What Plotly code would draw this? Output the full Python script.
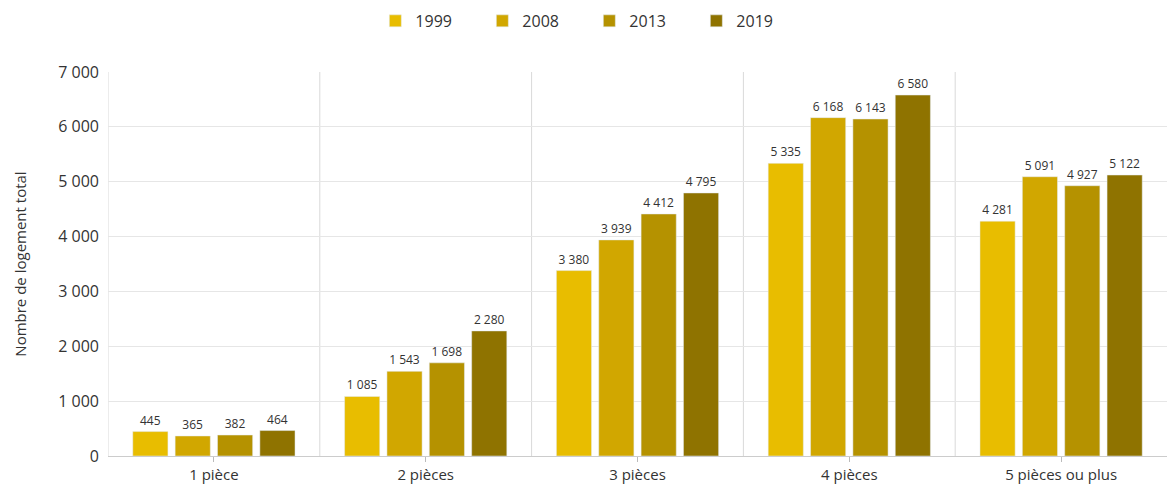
import plotly.graph_objects as go

categories = ["1 pièce", "2 pièces", "3 pièces", "4 pièces", "5 pièces ou plus"]
years = ["1999", "2008", "2013", "2019"]
values = {
    "1999": [445, 1085, 3380, 5335, 4281],
    "2008": [365, 1543, 3939, 6168, 5091],
    "2013": [382, 1698, 4412, 6143, 4927],
    "2019": [464, 2280, 4795, 6580, 5122],
}
colors = {"1999": "#E8BD00", "2008": "#D1A700", "2013": "#B59200", "2019": "#8F7300"}
y_ticks = [0, 1000, 2000, 3000, 4000, 5000, 6000, 7000]

FONT = "Open Sans"
fig = go.Figure()
for yr in years:
    fig.add_trace(go.Bar(
        name=yr, x=categories, y=values[yr], marker_color=colors[yr],
        texttemplate="%{y:,}", textposition="outside", cliponaxis=False,
        textfont=dict(size=12, color="#333333", family=FONT),
    ))

shapes = []
for i in range(len(categories)):
    shapes.append(dict(type="line", xref="x", yref="paper", x0=i - 0.5, x1=i - 0.5,
                       y0=0, y1=1, line=dict(color="#d9d9d9", width=1), layer="below"))

fig.update_layout(
    width=1167, height=493,
    margin=dict(l=108, r=0, t=72, b=37),
    paper_bgcolor="white", plot_bgcolor="white",
    separators=", ",
    barmode="group", bargap=0.2, bargroupgap=0.17,
    font=dict(family=FONT, color="#333333", size=15),
    legend=dict(orientation="h", xref="container", yref="container", x=0.505, xanchor="center",
                y=0.992, yanchor="top", font=dict(size=16), entrywidth=62,
                entrywidthmode="pixels", traceorder="normal"),
    shapes=shapes,
    xaxis=dict(showgrid=False, ticks="outside", ticklen=5, tickcolor="#bbbbbb",
               showline=True, linecolor="#cccccc", tickfont=dict(size=15),
               range=[-0.5, 4.5]),
    yaxis=dict(range=[0, 7000], tickvals=y_ticks, tickformat=",", gridcolor="#e6e6e6",
               zeroline=False, tickfont=dict(size=16), ticklabelstandoff=8,
               title=dict(text="Nombre de logement total", font=dict(size=15), standoff=28)),
)
fig.write_html("out.html")
